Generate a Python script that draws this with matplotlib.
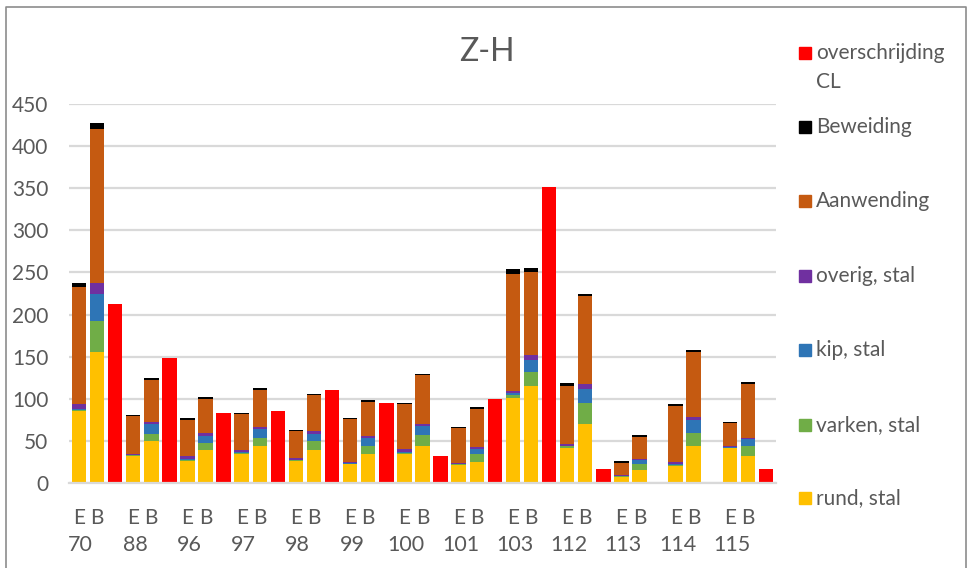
import numpy as np
import matplotlib.pyplot as plt
from matplotlib.patches import Rectangle
from matplotlib.lines import Line2D

plt.rcParams['font.family'] = ['Lato', 'DejaVu Sans']

# Data: per group an E bar, a B bar and the CL exceedance
groups = ["70", "88", "96", "97", "98", "99", "100", "101", "103", "112", "113", "114", "115"]

rund_E    = [86, 32, 26, 35, 26, 22, 34.5, 21, 101.5, 42, 7, 20, 41]
varken_E  = [1, 1, 1, 1, 1, 1, 1.5, 1, 3, 1.5, 1.5, 1, 1]
kip_E     = [0.5, 0.5, 1, 0.5, 0.5, 0.5, 1, 1, 2, 1, 0, 1, 0.5]
overig_E  = [6, 1.5, 3.5, 2.5, 2.5, 2, 3, 1, 3, 2, 0.5, 3, 1.5]
aanw_E    = [139, 44, 43, 43, 32, 50, 53.5, 41, 138.5, 69, 15, 67, 27]
bew_E     = [5, 2, 3, 1.5, 1.5, 1.5, 1.5, 1.5, 6.5, 3, 2, 2, 1.5]

rund_B    = [155, 49.5, 39, 43.5, 39, 34.5, 43.5, 25.5, 115, 69.5, 16, 43.5, 32.5]
varken_B  = [37, 9, 9, 10.5, 10.5, 10, 13, 8.5, 16.5, 25.5, 6, 16, 11]
kip_B     = [32, 11, 8, 10.5, 9, 9.5, 11.5, 6, 14, 17, 5.5, 15.5, 8.5]
overig_B  = [13, 3, 3, 2, 3, 1.5, 2.5, 3, 6, 6, 1, 3, 2]
aanw_B    = [183, 50, 41, 44, 43, 41, 58, 45, 99, 104, 26.5, 78, 64]
bew_B     = [7, 2, 2, 2, 1.5, 2, 1.5, 2, 4.5, 3, 2, 1.5, 1.5]

overschrijding = [213, 149, 83, 85, 111, 95, 32, 100, 352, 17, 0, 0, 17]

series = ["rund, stal", "varken, stal", "kip, stal", "overig, stal", "Aanwending", "Beweiding"]
colors = ["#FFC000", "#70AD47", "#2E75B6", "#7030A0", "#C55A11", "#000000"]
red = "#FF0000"
grey_text = "#595959"

E_vals = [rund_E, varken_E, kip_E, overig_E, aanw_E, bew_E]
B_vals = [rund_B, varken_B, kip_B, overig_B, aanw_B, bew_B]

fig = plt.figure(figsize=(9.7, 5.68), dpi=100)
ax = fig.add_axes([69 / 970, 85 / 568, 707 / 970, 379 / 568])

n = len(groups)
xE = np.arange(n) * 3
xB = xE + 1
xR = xE + 2
w = 0.8

bottomE = np.zeros(n)
bottomB = np.zeros(n)
for vals_e, vals_b, c in zip(E_vals, B_vals, colors):
    ax.bar(xE, vals_e, w, bottom=bottomE, color=c, zorder=2)
    ax.bar(xB, vals_b, w, bottom=bottomB, color=c, zorder=2)
    bottomE += np.array(vals_e)
    bottomB += np.array(vals_b)
ax.bar(xR, overschrijding, w, color=red, zorder=2)

ax.set_ylim(0, 450)
ax.set_xlim(-0.55, 3 * n - 1 + 0.55)
ax.set_yticks(np.arange(0, 451, 50))
ax.yaxis.grid(True, color="#D9D9D9", linewidth=1.6, zorder=0)
for s in ["top", "right", "left"]:
    ax.spines[s].set_visible(False)
ax.spines["bottom"].set_color("#D9D9D9")
ax.spines["bottom"].set_linewidth(1.6)
ax.tick_params(axis="y", length=0, pad=15, labelsize=15, labelcolor=grey_text)

xt = np.sort(np.concatenate([xE, xB]))
ax.set_xticks(xt)
ax.set_xticklabels(["E", "B"] * n)
ax.tick_params(axis="x", length=0, pad=18, labelsize=15, labelcolor=grey_text)
trans = ax.get_xaxis_transform()
for x, g in zip(xE, groups):
    ax.text(x + 0.1, -0.163, g, transform=trans, ha="center", va="center",
            fontsize=15.5, color=grey_text)

fig.text(487 / 970, 1 - 52 / 568, "Z-H", ha="center", va="center",
         fontsize=23, color=grey_text)

# legend
leg_labels = ["overschrijding", "Beweiding", "Aanwending", "overig, stal",
              "kip, stal", "varken, stal", "rund, stal"]
leg_colors = [red, "#000000", "#C55A11", "#7030A0", "#2E75B6", "#70AD47", "#FFC000"]
leg_y = [53, 127, 201, 276, 350, 425, 498]
for lab, c, y in zip(leg_labels, leg_colors, leg_y):
    fig.add_artist(Rectangle((799 / 970, 1 - (y + 6) / 568), 12 / 970, 12 / 568,
                             transform=fig.transFigure, color=c))
    fig.text(816 / 970, 1 - y / 568, lab, ha="left", va="center",
             fontsize=15, color=grey_text)
fig.text(816 / 970, 1 - 82 / 568, "CL", ha="left", va="center",
         fontsize=15, color=grey_text)

# outer frame
fx = [6 / 970, 6 / 970, 966 / 970, 966 / 970]
fy = [0, 1 - 7 / 568, 1 - 7 / 568, 0]
fig.add_artist(Line2D(fx, fy, transform=fig.transFigure, color="#8C8C8C", linewidth=1.2))

fig.savefig("out.png", dpi=100, facecolor="white")
